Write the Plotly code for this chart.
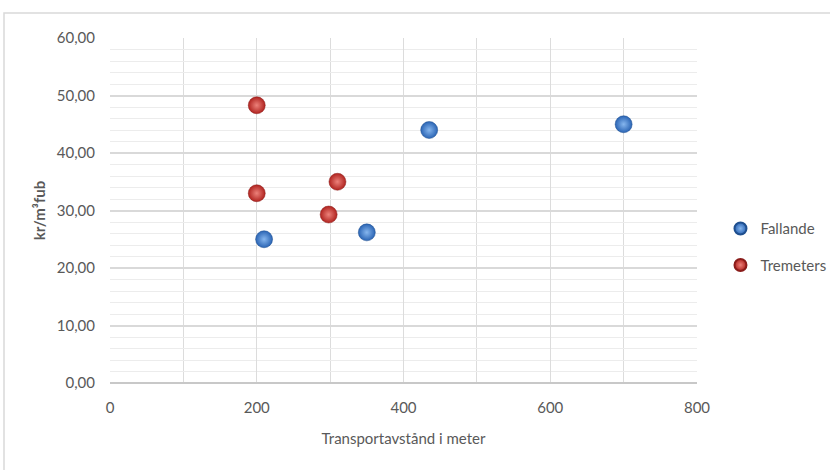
import plotly.graph_objects as go

fall_x = [210, 350, 435, 700]
fall_y = [25.0, 26.2, 44.0, 45.0]
trem_x = [200, 200, 310, 298]
trem_y = [48.3, 33.0, 35.0, 29.3]

FONT = "Lato, Liberation Sans, sans-serif"
GRAY = "#595959"

fig = go.Figure()
fig.add_trace(go.Scatter(
    x=fall_x, y=fall_y, mode="markers", name="Fallande", legendgroup="f",
    marker=dict(size=17, color="#2a64b4", line=dict(width=0.5, color="#1f4f8f"),
                gradient=dict(type="radial", color="#86b6ee")),
))
fig.add_trace(go.Scatter(
    x=trem_x, y=trem_y, mode="markers", name="Tremeters", legendgroup="t",
    marker=dict(size=17, color="#b0231f", line=dict(width=0.5, color="#8a1c1a"),
                gradient=dict(type="radial", color="#ec817a")),
))

fig.update_layout(
    width=830, height=470,
    margin=dict(l=110, r=133, t=38, b=87, autoexpand=False),
    paper_bgcolor="white", plot_bgcolor="white",
    separators=", ",
    font=dict(family=FONT, size=14, color=GRAY),
    showlegend=True,
    legend=dict(x=1.04, y=0.395, xanchor="left", yanchor="middle",
                font=dict(family=FONT, size=15, color=GRAY),
                itemsizing="constant", tracegroupgap=14, itemwidth=30,
                traceorder="grouped",
                bgcolor="rgba(0,0,0,0)"),
    shapes=[dict(type="rect", xref="paper", yref="paper",
                 x0=(4 - 110) / 587, x1=(840 - 110) / 587,
                 y0=-(480 - 383) / 345, y1=1 + (38 - 13) / 345,
                 line=dict(color="#d9d9d9", width=1.5), layer="below")],
)

fig.update_xaxes(
    range=[0, 800], dtick=200, tick0=0,
    showgrid=True, gridcolor="#dcdcdc", gridwidth=1,
    minor=dict(dtick=100, showgrid=True, gridcolor="#dcdcdc", gridwidth=1),
    zeroline=False, showline=False, ticks="", ticklabelstandoff=14,
    tickfont=dict(family=FONT, size=15, color=GRAY),
    title=dict(text="Transportavstånd i meter", standoff=18,
               font=dict(family=FONT, size=15, color=GRAY)),
)
fig.update_yaxes(
    range=[0, 60], dtick=10, tick0=0, tickformat=".2f",
    showgrid=True, gridcolor="#d9d9d9", gridwidth=1.5,
    minor=dict(dtick=2, showgrid=True, gridcolor="#ececec", gridwidth=1),
    zeroline=True, zerolinecolor="#c8c8c8", zerolinewidth=2,
    showline=False, ticks="", ticklabelstandoff=14,
    tickfont=dict(family=FONT, size=15, color=GRAY),
    title=dict(text="<b>kr/m³fub</b>", standoff=7,
               font=dict(family=FONT, size=15, color=GRAY)),
)

fig.write_html("out.html")
